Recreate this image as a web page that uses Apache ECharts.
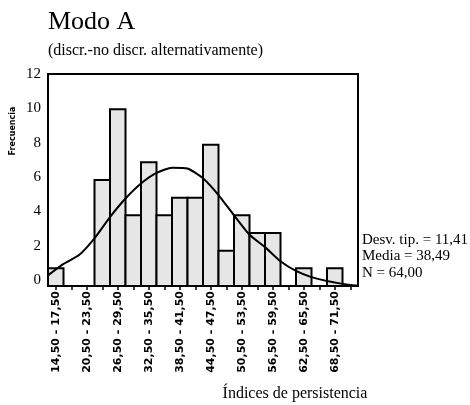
<!DOCTYPE html>
<html>
<head>
<meta charset="utf-8">
<script src="https://cdn.jsdelivr.net/npm/echarts@6/dist/echarts.min.js"></script>
<style>
html,body{margin:0;padding:0;background:#fff;}
#c{width:470px;height:405px;}
</style>
</head>
<body>
<div id="c"></div>
<script>
// Histogram data
const binEdges = [14.5, 17.5, 20.5, 23.5, 26.5, 29.5, 32.5, 35.5, 38.5, 41.5, 44.5,
                  47.5, 50.5, 53.5, 56.5, 59.5, 62.5, 65.5, 68.5, 71.5, 74.5];
const counts = [1, 0, 0, 6, 10, 4, 7, 4, 5, 5, 8, 2, 4, 3, 3, 0, 1, 0, 1, 0];
// Normal curve heights at the bin edges
const curve = [0.6, 1.25, 1.75, 2.7, 3.9, 4.95, 5.8, 6.4, 6.7, 6.65, 6.1,
               5.15, 4.0, 2.9, 2.2, 1.4, 0.85, 0.5, 0.28, 0.12, 0.02];
// Tick positions (bin centres) and labels
const tickValues = [16, 19, 22, 25, 28, 31, 34, 37, 40, 43, 46, 49, 52, 55, 58, 61, 64, 67, 70, 73];
const labelValues = [16, 22, 28, 34, 40, 46, 52, 58, 64, 70];
const xLabels = ['14,50 - 17,50', '20,50 - 23,50', '26,50 - 29,50', '32,50 - 35,50', '38,50 - 41,50',
                 '44,50 - 47,50', '50,50 - 53,50', '56,50 - 59,50', '62,50 - 65,50', '68,50 - 71,50'];
const yTicks = [0, 2, 4, 6, 8, 10, 12];
const statsLines = ['Desv. tip. = 11,41', 'Media = 38,49', 'N = 64,00'];

const serif = '"Liberation Serif", "Times New Roman", serif';

const barData = counts.map((c, i) => [binEdges[i], binEdges[i + 1], c]);
const lineData = binEdges.map((e, i) => [e, curve[i]]);

const chart = echarts.init(document.getElementById('c'), null, {renderer: 'canvas'});
chart.setOption({
  animation: false,
  backgroundColor: '#fff',
  title: [
    {text: 'Modo A', left: 48, top: 9, padding: 0,
     textStyle: {fontFamily: serif, fontSize: 26, fontWeight: 'normal', color: '#000'}},
    {text: '(discr.-no discr. alternativamente)', left: 48, top: 43, padding: 0,
     textStyle: {fontFamily: serif, fontSize: 16, fontWeight: 'normal', color: '#000'}}
  ],
  grid: {left: 48, top: 74, width: 310, height: 212, show: true,
         borderColor: '#000', borderWidth: 2, backgroundColor: 'transparent'},
  xAxis: {
    type: 'value', min: 14.5, max: 74.5,
    axisLine: {show: true, lineStyle: {color: '#000', width: 2}},
    splitLine: {show: false},
    axisTick: {show: true, length: 4, lineStyle: {color: '#000', width: 1.5}, customValues: tickValues},
    axisLabel: {
      customValues: labelValues, rotate: 90, margin: 5,
      fontFamily: '"DejaVu Sans", sans-serif', fontWeight: 'bold', fontSize: 11, color: '#000',
      formatter: function (v) {
        const i = labelValues.indexOf(Math.round(v));
        return i >= 0 ? xLabels[i] : '';
      }
    }
  },
  yAxis: [
    {type: 'value', min: 0, max: 12, interval: 2,
     axisLine: {show: false}, axisTick: {show: false}, axisLabel: {show: false}, splitLine: {show: false}},
    {type: 'value', min: -0.35, max: 12, position: 'left',
     axisLine: {show: false}, axisTick: {show: false}, splitLine: {show: false},
     axisLabel: {customValues: yTicks, margin: 7, fontFamily: serif, fontSize: 15, color: '#000'}}
  ],
  series: [
    {
      type: 'custom',
      xAxisIndex: 0, yAxisIndex: 0,
      data: barData,
      encode: {x: [0, 1], y: 2},
      renderItem: function (params, api) {
        const v = api.value(2);
        if (!v) return null;
        const p0 = api.coord([api.value(0), 0]);
        const p1 = api.coord([api.value(1), v]);
        return {
          type: 'rect',
          shape: {x: p0[0], y: p1[1], width: p1[0] - p0[0], height: p0[1] - p1[1]},
          style: {fill: '#e6e6e6', stroke: '#000', lineWidth: 2}
        };
      },
      z: 2
    },
    {
      type: 'line',
      xAxisIndex: 0, yAxisIndex: 0,
      data: lineData,
      showSymbol: false,
      smooth: 0.2,
      lineStyle: {color: '#000', width: 2},
      z: 3
    }
  ],
  graphic: [
    {type: 'text', x: 13, y: 131, rotation: Math.PI / 2,
     style: {text: 'Frecuencia', fontFamily: '"DejaVu Sans", sans-serif', fontWeight: 'bold', fontSize: 8,
             fill: '#000', align: 'center', verticalAlign: 'middle'}},
    {type: 'text', x: 362, y: 240,
     style: {text: statsLines[0], fontFamily: serif, fontSize: 15, fill: '#000', align: 'left', verticalAlign: 'middle'}},
    {type: 'text', x: 362, y: 256.5,
     style: {text: statsLines[1], fontFamily: serif, fontSize: 15, fill: '#000', align: 'left', verticalAlign: 'middle'}},
    {type: 'text', x: 362, y: 273,
     style: {text: statsLines[2], fontFamily: serif, fontSize: 15, fill: '#000', align: 'left', verticalAlign: 'middle'}},
    {type: 'text', x: 295, y: 394,
     style: {text: 'Índices de persistencia', fontFamily: serif, fontSize: 16, fill: '#000', align: 'center', verticalAlign: 'middle'}}
  ]
});
</script>
</body>
</html>
